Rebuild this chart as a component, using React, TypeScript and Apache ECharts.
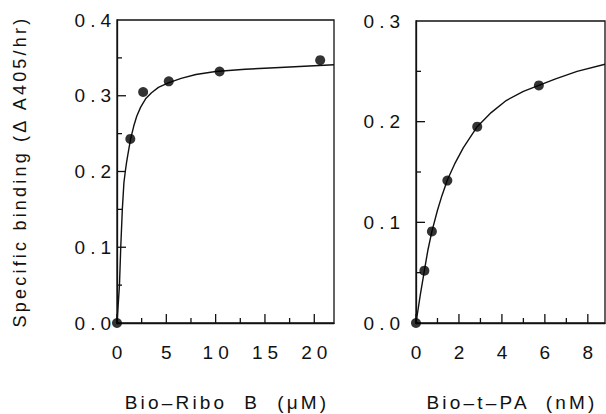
import React, { useEffect, useRef } from "react";
import * as echarts from "echarts";

// ---- Left panel: Bio-Ribo B (µM) ----
const leftPointsX = [0, 1.35, 2.65, 5.25, 10.4, 20.6];
const leftPointsY = [0, 0.243, 0.305, 0.319, 0.332, 0.347];
const leftCurveX = [0, 0.25, 0.38, 0.54, 0.7, 0.84, 0.97, 1.11, 1.38, 1.7, 2.0, 2.4, 2.9, 3.5, 4.2, 5.2, 6.5, 8, 10, 13, 16, 19, 22];
const leftCurveY = [0, 0.05, 0.1, 0.15, 0.185, 0.2, 0.212, 0.223, 0.243, 0.26, 0.273, 0.285, 0.296, 0.304, 0.311, 0.317, 0.323, 0.328, 0.332, 0.335, 0.337, 0.339, 0.341];
const leftXMax = 22;
const leftXMajorStep = 5;
const leftYMax = 0.4;
const leftXMajorTicks = [0, 5, 10, 15, 20];
const leftXMinorTicks = [2.5, 7.5, 12.5, 17.5];
const leftYMajorTicks = [0.1, 0.2, 0.3];
const leftYMinorTicks = [0.05, 0.15, 0.25, 0.35];

// ---- Right panel: Bio-t-PA (nM) ----
const rightPointsX = [0, 0.39, 0.74, 1.46, 2.85, 5.72];
const rightPointsY = [0, 0.052, 0.091, 0.1415, 0.195, 0.236];
const rightCurveX = [0, 0.2, 0.39, 0.55, 0.74, 1.0, 1.2, 1.46, 1.8, 2.2, 2.85, 3.5, 4.2, 5.0, 5.72, 6.5, 7.5, 8.8];
const rightCurveY = [0, 0.028, 0.052, 0.072, 0.091, 0.112, 0.126, 0.142, 0.158, 0.174, 0.195, 0.209, 0.221, 0.23, 0.236, 0.2425, 0.25, 0.257];
const rightXMax = 8.8;
const rightXMajorStep = 2;
const rightYMax = 0.3;
const rightXMajorTicks = [0, 2, 4, 6, 8];
const rightXMinorTicks = [1, 3, 5, 7];
const rightYMajorTicks = [0.1, 0.2];
const rightYMinorTicks = [0.05, 0.15, 0.25];

const yMajorStep = 0.1;

const yTitle = "Specific binding (\u0394 A405/hr)";
const leftXTitle = "Bio\u2013Ribo  B  (\u03BCM)";
const rightXTitle = "Bio\u2013t\u2013PA  (nM)";

const zip = (xs: number[], ys: number[]) => xs.map((x, i) => [x, ys[i]]);

// kind: 0 = x major, 1 = x minor, 2 = y major, 3 = y minor
const tickData = (xMaj: number[], xMin: number[], yMaj: number[], yMin: number[]) => [
  ...xMaj.map((v) => [v, 0, 0]),
  ...xMin.map((v) => [v, 0, 1]),
  ...yMaj.map((v) => [0, v, 2]),
  ...yMin.map((v) => [0, v, 3]),
];

const INK = "#111";
const TICK_FONT = "Helvetica, 'Liberation Sans', sans-serif";
const TITLE_FONT = "Arial, 'Liberation Sans', sans-serif";

function axis(grid: number, max: number, step: number, pos: string, opts: any) {
  return {
    gridIndex: grid,
    type: "value",
    min: 0,
    max,
    interval: step,
    position: pos,
    axisLine: { show: true, onZero: false, lineStyle: { color: INK, width: 1.3 } },
    axisTick: { show: false },
    axisLabel: {
      show: true,
      showMaxLabel: false,
      color: INK,
      fontSize: 19,
      fontFamily: TICK_FONT,
      ...opts.label,
    },
    splitLine: { show: false },
    ...opts.extra,
  };
}

const renderTick = (_params: any, api: any) => {
  const kind = api.value(2);
  const p = api.coord([api.value(0), api.value(1)]);
  const len = kind % 2 === 0 ? 9 : 5;
  const shape =
    kind < 2
      ? { x1: p[0], y1: p[1], x2: p[0], y2: p[1] - len }
      : { x1: p[0], y1: p[1], x2: p[0] + len, y2: p[1] };
  return { type: "line", shape, style: { stroke: INK, lineWidth: 1.3 } };
};

export default function App() {
  const ref = useRef<HTMLDivElement>(null);
  useEffect(() => {
    if (!ref.current) return;
    const chart = echarts.init(ref.current, undefined, { renderer: "svg" });
    const xFmt = (v: number) => String(Math.round(v));
    const yFmt = (v: number) => v.toFixed(1);
    const xName = (text: string) => ({
      name: text,
      nameLocation: "middle",
      nameGap: 70,
      nameTextStyle: { color: INK, fontSize: 19, fontFamily: TITLE_FONT, padding: [0, 0, 0, 3] },
    });
    chart.setOption({
      animation: false,
      grid: [
        { left: 117, top: 20, width: 217, height: 303, show: true, borderColor: INK, borderWidth: 1.3, backgroundColor: "transparent", outerBoundsMode: "none" },
        { left: 416, top: 21, width: 189, height: 302, show: true, borderColor: INK, borderWidth: 1.3, backgroundColor: "transparent", outerBoundsMode: "none" },
      ],
      xAxis: [
        axis(0, leftXMax, leftXMajorStep, "bottom", {
          label: { margin: 20, formatter: xFmt, padding: [0, 0, 0, 5] },
          extra: xName(leftXTitle),
        }),
        axis(1, rightXMax, rightXMajorStep, "bottom", {
          label: { margin: 20, formatter: xFmt, padding: [0, 0, 0, 5] },
          extra: xName(rightXTitle),
        }),
      ],
      yAxis: [
        axis(0, leftYMax, yMajorStep, "left", {
          label: { margin: 1, formatter: yFmt, showMaxLabel: true },
          extra: {
            name: yTitle,
            nameLocation: "middle",
            nameGap: 88,
            nameTextStyle: { color: INK, fontSize: 18, fontFamily: TITLE_FONT },
          },
        }),
        axis(1, rightYMax, yMajorStep, "left", {
          label: { margin: 11, formatter: yFmt, showMaxLabel: true },
        }),
      ],
      series: [
        {
          type: "custom",
          xAxisIndex: 0,
          yAxisIndex: 0,
          data: tickData(leftXMajorTicks, leftXMinorTicks, leftYMajorTicks, leftYMinorTicks),
          renderItem: renderTick,
          silent: true,
          clip: false,
          z: 1,
        },
        {
          type: "custom",
          xAxisIndex: 1,
          yAxisIndex: 1,
          data: tickData(rightXMajorTicks, rightXMinorTicks, rightYMajorTicks, rightYMinorTicks),
          renderItem: renderTick,
          silent: true,
          clip: false,
          z: 1,
        },
        {
          type: "line",
          xAxisIndex: 0,
          yAxisIndex: 0,
          data: zip(leftCurveX, leftCurveY),
          smooth: false,
          showSymbol: false,
          lineStyle: { color: INK, width: 1.4 },
          clip: false,
          z: 2,
        },
        {
          type: "scatter",
          xAxisIndex: 0,
          yAxisIndex: 0,
          data: zip(leftPointsX, leftPointsY),
          symbolSize: 10,
          itemStyle: { color: "#000" },
          clip: false,
          z: 3,
        },
        {
          type: "line",
          xAxisIndex: 1,
          yAxisIndex: 1,
          data: zip(rightCurveX, rightCurveY),
          smooth: false,
          showSymbol: false,
          lineStyle: { color: INK, width: 1.4 },
          clip: false,
          z: 2,
        },
        {
          type: "scatter",
          xAxisIndex: 1,
          yAxisIndex: 1,
          data: zip(rightPointsX, rightPointsY),
          symbolSize: 10,
          itemStyle: { color: "#000" },
          clip: false,
          z: 3,
        },
      ],
    });
    return () => chart.dispose();
  }, []);
  return (
    <>
      <style>{`
        #chart text[style*="Helvetica"], #chart text[font-family*="Helvetica"] { letter-spacing: 5px; }
        #chart text[style*="Arial"], #chart text[font-family*="Arial"] { letter-spacing: 3.2px; }
      `}</style>
      <div
        id="chart"
        ref={ref}
        style={{ position: "absolute", left: 0, top: 0, width: 606, height: 414 }}
      />
    </>
  );
}
